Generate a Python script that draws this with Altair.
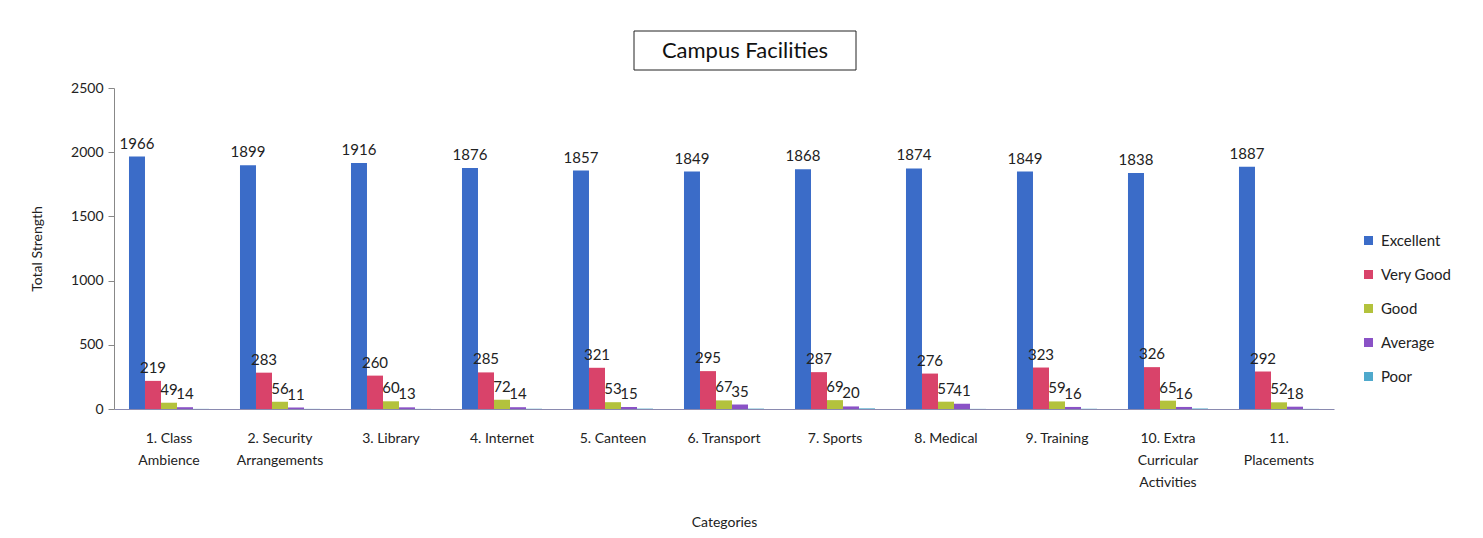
import altair as alt
import pandas as pd

categories = ["1. Class|Ambience", "2. Security|Arrangements", "3. Library", "4. Internet",
              "5. Canteen", "6. Transport", "7. Sports", "8. Medical", "9. Training",
              "10. Extra|Curricular|Activities", "11.|Placements"]
series = ["Excellent", "Very Good", "Good", "Average", "Poor"]
excellent = [1966, 1899, 1916, 1876, 1857, 1849, 1868, 1874, 1849, 1838, 1887]
very_good = [219, 283, 260, 285, 321, 295, 287, 276, 323, 326, 292]
good = [49, 56, 60, 72, 53, 67, 69, 57, 59, 65, 52]
average = [14, 11, 13, 14, 15, 35, 20, 41, 16, 16, 18]
poor = [1, 1, 1, 2, 3, 3, 5, 1, 2, 4, 1]
colors = ["#3B6CC8", "#D9436A", "#B3C23C", "#8A52C6", "#4FA9CC"]

rows = []
for vals, s in zip([excellent, very_good, good, average, poor], series):
    for c, v in zip(categories, vals):
        rows.append({"cat": c, "series": s, "value": v,
                     "label": "" if s == "Poor" else str(v)})
df = pd.DataFrame(rows)

FONT = "Lato"
x = alt.X("cat:N", sort=categories, title="Categories",
          scale=alt.Scale(paddingInner=0.279, paddingOuter=0.135),
          axis=alt.Axis(labelAngle=0, labelExpr="split(datum.label, '|')",
                        labelFontSize=14, labelFont=FONT, labelColor="#222",
                        labelPadding=22, labelLineHeight=22, ticks=False,
                        domainColor="#8A8AB0", titleFont=FONT, titleFontSize=14,
                        titleFontWeight="normal", titleColor="#222", titlePadding=26))
xo = alt.XOffset("series:N", sort=series, scale=alt.Scale(paddingInner=0, paddingOuter=0))
y = alt.Y("value:Q", title="Total Strength",
          scale=alt.Scale(domain=[0, 2500]),
          axis=alt.Axis(values=[0, 500, 1000, 1500, 2000, 2500], format="d", grid=False,
                        labelFontSize=14, labelFont=FONT, labelColor="#222",
                        tickSize=6, tickColor="#888", domainColor="#888", labelPadding=5,
                        titleFont=FONT, titleFontSize=14, titleFontWeight="normal",
                        titleColor="#222", titlePadding=26))
color = alt.Color("series:N", sort=series, scale=alt.Scale(domain=series, range=colors),
                  legend=alt.Legend(title=None, orient="none", legendX=1247, legendY=145,
                                    symbolType="square", symbolSize=81, symbolStrokeWidth=0,
                                    labelFont=FONT, labelFontSize=15, labelColor="#222",
                                    rowPadding=18, labelOffset=5))

bars = alt.Chart(df).mark_bar().encode(x=x, xOffset=xo, y=y, color=color)
labels = alt.Chart(df).mark_text(baseline="bottom", dy=-5, font=FONT, fontSize=15,
                                 color="#222").encode(x=x, xOffset=xo, y=y, text="label:N")

title_df = pd.DataFrame({"t": ["Campus Facilities"]})
title_box = alt.Chart(title_df).mark_rect(fill="white", stroke="#222", strokeWidth=1).encode(
    x=alt.value(520), x2=alt.value(742), y=alt.value(-57), y2=alt.value(-18))
title_txt = alt.Chart(title_df).mark_text(font=FONT, fontSize=22, color="#111",
                                          baseline="middle").encode(
    x=alt.value(631), y=alt.value(-37), text="t:N")

chart = alt.layer(bars, labels, title_box, title_txt).properties(
    width=1220, height=321, background="white",
    padding={"left": 22, "top": 22, "right": 5, "bottom": 5}
).configure_view(stroke=None)

chart.save("out.html", embed_options={"renderer": "svg", "actions": False})
